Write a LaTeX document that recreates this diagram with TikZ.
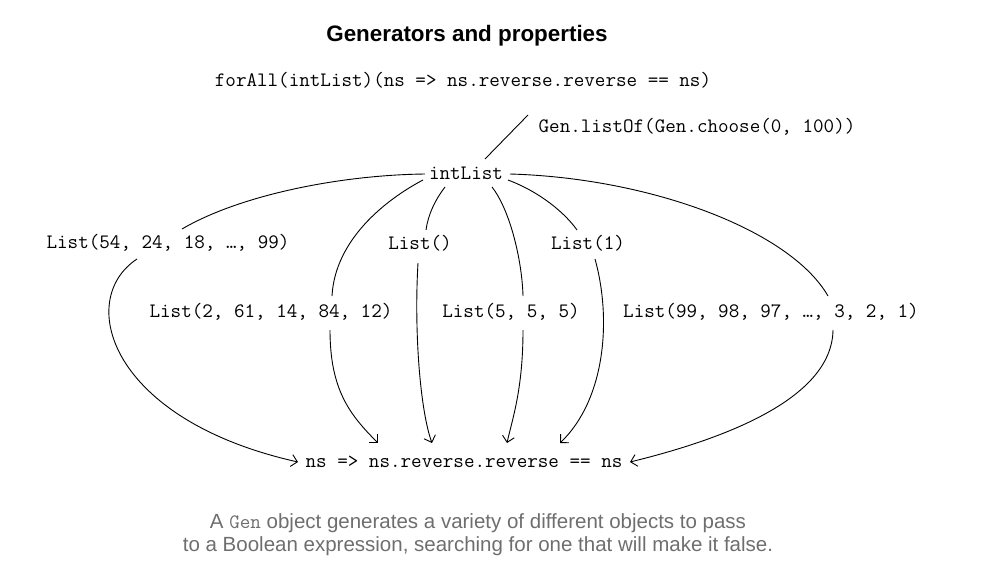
\documentclass[tikz,border=0pt]{standalone}
\usepackage{fontspec}
\setmainfont{Liberation Sans}
\usetikzlibrary{arrows.meta,calc}
\definecolor{capgray}{HTML}{6E6E6E}
\begin{document}
\begin{tikzpicture}[x=1pt,y=-1pt,
  code/.style={font=\fontsize{20.5}{22}\selectfont\ttfamily,inner sep=0pt},
  conn/.style={line width=0.9pt},
  arr/.style={conn,-{Straight Barb[length=6pt,width=12pt,line width=0.9pt]}}]
\useasboundingbox (0,0) rectangle (982,560);
\node[font=\fontsize{22.4}{26}\selectfont\bfseries] (title) at (467,36) {Generators and properties};
\node[code] (forall) at (463,80) {forAll(intList)(ns => ns.reverse.reverse == ns)};
\node[code] (gen) at (697,127) {Gen.listOf(Gen.choose(0, 100))};
\node[code] (il) at (466,173) {intList};
\node[code] (l54) at (168,243) {List(54, 24, 18, …, 99)};
\node[code] (l0) at (420,243) {List()};
\node[code] (l1) at (588,243) {List(1)};
\node[code] (l2) at (271,312) {List(2, 61, 14, 84, 12)};
\node[code] (l5) at (511,312) {List(5, 5, 5)};
\node[code] (l99) at (771,312) {List(99, 98, 97, …, 3, 2, 1)};
\node[code] (ns) at (464,462) {ns => ns.reverse.reverse == ns};
\node[font=\fontsize{20.5}{23}\selectfont,text=capgray,align=center] (cap) at (478,535)
  {A {\ttfamily Gen} object generates a variety of different objects to pass\\to a Boolean expression, searching for one that will make it false.};
% generator line
\draw[conn] ($(gen)+(-169,-12)$) -- ($(il)+(19,-14)$);
% intList -> lists
\draw[conn] ($(il)+(-41,1)$) .. controls (340,175) and (240,195) .. ($(l54)+(14,-14)$);
\draw[conn] ($(il)+(-43,7)$) .. controls (385,200) and (335,240) .. ($(l2)+(61,-16)$);
\draw[conn] ($(il)+(-21,14)$) .. controls (435,200) and (428,215) .. ($(l0)+(6,-13)$);
\draw[conn] ($(il)+(26,14)$) .. controls (510,210) and (522,260) .. ($(l5)+(12,-16)$);
\draw[conn] ($(il)+(42,7)$) .. controls (540,192) and (565,213) .. ($(l1)+(-11,-13)$);
\draw[conn] ($(il)+(44,1)$) .. controls (650,178) and (790,230) .. ($(l99)+(57,-16)$);
% lists -> property
\draw[arr] ($(l54)+(-31,16)$) .. controls (75,300) and (110,420) .. ($(ns)+(-166,0)$);
\draw[arr] ($(l2)+(59,18)$) .. controls (330,390) and (350,415) .. ($(ns)+(-86,-19)$);
\draw[arr] ($(l0)+(-2,20)$) .. controls (414,330) and (420,410) .. ($(ns)+(-32,-19)$);
\draw[arr] ($(l5)+(12,18)$) .. controls (523,390) and (512,420) .. ($(ns)+(43,-19)$);
\draw[arr] ($(l1)+(7,16)$) .. controls (612,320) and (605,400) .. ($(ns)+(96,-19)$);
\draw[arr] ($(l99)+(62,18)$) .. controls (832,400) and (720,440) .. ($(ns)+(166,0)$);
\end{tikzpicture}
\end{document}
